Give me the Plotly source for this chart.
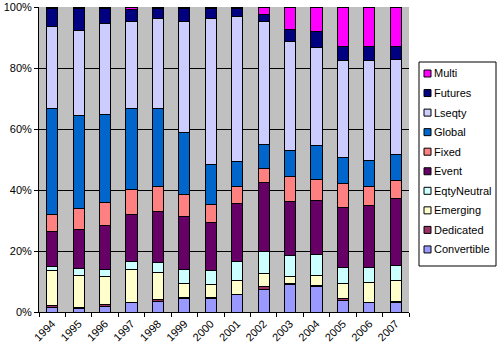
import plotly.graph_objects as go

years = ["1994", "1995", "1996", "1997", "1998", "1999", "2000",
         "2001", "2002", "2003", "2004", "2005", "2006", "2007"]

convertible = [1.6, 1.2, 1.9, 3.0, 3.6, 4.5, 4.3, 5.6, 7.5, 8.9, 8.2, 3.9, 3.0, 3.2]
dedicated   = [0.4, 0.4, 0.5, 0.1, 0.4, 0.3, 0.4, 0.3, 0.7, 0.3, 0.4, 0.5, 0.1, 0.4]
emerging    = [11.6, 10.5, 9.3, 11.0, 9.1, 4.7, 4.2, 4.4, 4.3, 2.6, 3.5, 4.8, 6.7, 6.6]
eqtyneutral = [1.3, 2.3, 2.4, 2.5, 3.0, 4.6, 4.8, 6.1, 7.2, 6.8, 6.9, 5.3, 4.7, 5.2]
event       = [11.4, 12.5, 14.3, 15.5, 16.7, 17.3, 15.8, 19.3, 22.9, 17.5, 17.4, 19.9, 20.3, 21.9]
fixed       = [5.7, 7.1, 7.6, 8.2, 8.4, 7.2, 5.9, 5.6, 4.6, 8.2, 6.9, 7.7, 6.5, 5.9]
global_     = [34.7, 30.5, 28.8, 26.3, 25.6, 20.3, 12.8, 8.2, 7.6, 8.8, 11.2, 8.7, 8.5, 8.6]
lseqty      = [26.9, 27.8, 29.8, 28.7, 29.5, 36.4, 48.1, 47.4, 40.3, 35.6, 32.1, 31.7, 32.7, 31.0]
futures     = [5.8, 7.2, 4.9, 4.0, 3.2, 4.2, 3.2, 2.6, 2.3, 3.9, 5.5, 4.4, 4.4, 4.4]
multi       = [0.5, 0.5, 0.5, 0.7, 0.5, 0.5, 0.5, 0.5, 2.6, 7.4, 7.9, 13.1, 13.1, 12.8]

series = [
    ("Convertible", convertible, "#9999FF"),
    ("Dedicated", dedicated, "#993366"),
    ("Emerging", emerging, "#FFFFCC"),
    ("EqtyNeutral", eqtyneutral, "#CCFFFF"),
    ("Event", event, "#660066"),
    ("Fixed", fixed, "#FF8080"),
    ("Global", global_, "#0066CC"),
    ("Lseqty", lseqty, "#CCCCFF"),
    ("Futures", futures, "#000080"),
    ("Multi", multi, "#FF00FF"),
]

W, H = 500, 355
ML, MR, MT, MB = 39, 91, 7, 43
PW, PH = W - ML - MR, H - MT - MB


def px_x(p):
    return (p - ML) / PW


def px_y(p):
    return (H - MB - p) / PH


fig = go.Figure()
for name, vals, color in series:
    fig.add_trace(go.Bar(
        x=years, y=vals, name=name, showlegend=False,
        marker=dict(color=color, line=dict(color="black", width=1)),
    ))

font = dict(family="Liberation Sans, Arial, sans-serif", size=11, color="black")

# Custom legend (Excel style): box, small square swatches, labels
shapes = [dict(type="rect", xref="paper", yref="paper",
               x0=px_x(419), x1=px_x(496), y0=px_y(266), y1=px_y(62),
               line=dict(color="black", width=1), fillcolor="white", layer="above")]
annotations = []
for i, (name, vals, color) in enumerate(reversed(series)):
    cy = 73.5 + 19.55 * i
    shapes.append(dict(type="rect", xref="paper", yref="paper",
                       x0=px_x(424), x1=px_x(431), y0=px_y(cy + 3.5), y1=px_y(cy - 3.5),
                       line=dict(color="black", width=1), fillcolor=color, layer="above"))
    annotations.append(dict(xref="paper", yref="paper", x=px_x(432), y=px_y(cy),
                            xanchor="left", yanchor="middle", text=name,
                            showarrow=False, font=font))

fig.update_layout(
    width=W, height=H,
    barmode="stack", barnorm="percent", bargap=0.58,
    paper_bgcolor="white", plot_bgcolor="#C0C0C0",
    margin=dict(l=ML, r=MR, t=MT, b=MB, autoexpand=False),
    font=font,
    showlegend=False,
    hovermode=False,
    shapes=shapes,
    annotations=annotations,
    xaxis=dict(
        type="category", tickangle=-45,
        ticks="outside", tickson="boundaries", ticklen=4, tickcolor="black",
        showline=True, linecolor="black", linewidth=1,
        showgrid=False, tickfont=font,
    ),
    yaxis=dict(
        range=[0, 100], tickvals=[0, 20, 40, 60, 80, 100],
        ticktext=["0%", "20%", "40%", "60%", "80%", "100%"],
        ticks="outside", ticklen=4, tickcolor="black",
        showline=True, linecolor="black", linewidth=1,
        showgrid=True, gridcolor="black", gridwidth=1,
        zeroline=False, tickfont=font,
    ),
)

fig.write_html("out.html",
               config={"displayModeBar": False, "staticPlot": True},
               post_script="document.body.style.margin='0';document.body.style.padding='0';")
